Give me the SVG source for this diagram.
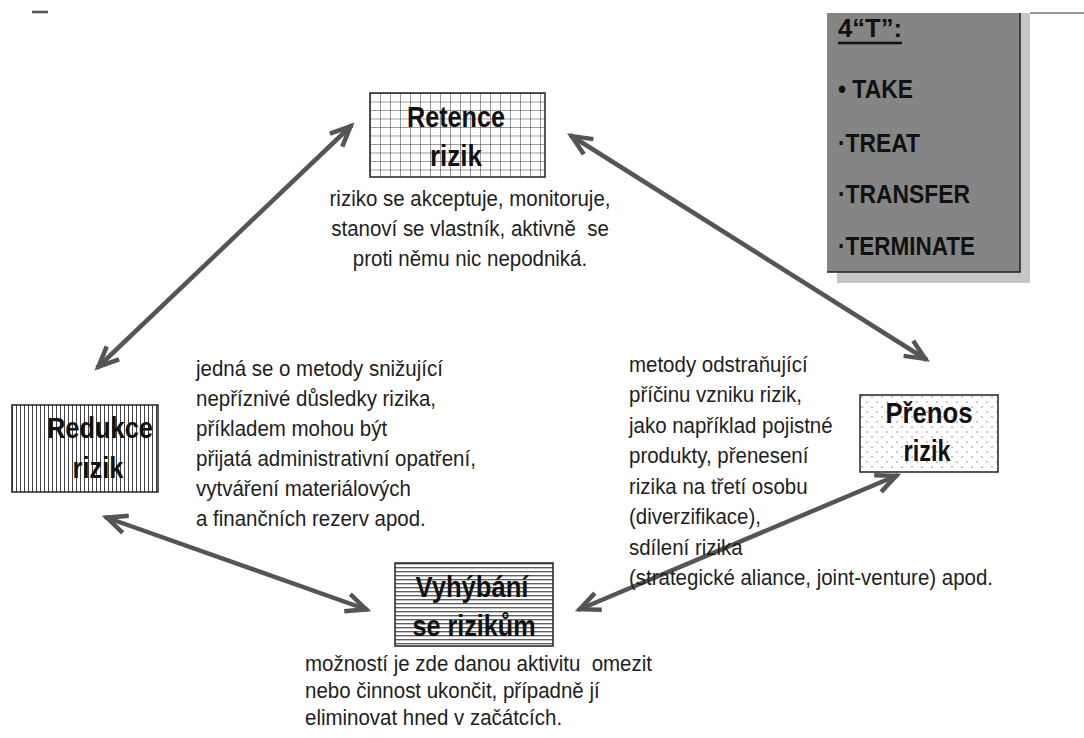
<svg xmlns="http://www.w3.org/2000/svg" width="1084" height="738" viewBox="0 0 1084 738">
  <defs>
    <style>
      .desc{font-family:"Liberation Sans",Arial,sans-serif;font-size:22.5px;fill:#1e1e1e;white-space:pre}
      .title{font-family:"Liberation Sans",Arial,sans-serif;font-weight:bold;font-size:29px;fill:#111}
      .t4{font-family:"Liberation Sans",Arial,sans-serif;font-weight:bold;font-size:25px;fill:#111}
      .box{stroke:#222;stroke-width:1.5}
      .conn{stroke:#555;stroke-width:4.5;fill:none;marker-start:url(#head);marker-end:url(#head)}
    </style>
    <!-- square grid hatch -->
    <pattern id="grid" patternUnits="userSpaceOnUse" x="370" y="93" width="10" height="8.5">
      <rect width="10" height="8.5" fill="#fff"/>
      <path d="M0,0V8.5M0,0H10" stroke="#333" stroke-width="1" fill="none"/>
    </pattern>
    <!-- vertical hatch -->
    <pattern id="vlines" patternUnits="userSpaceOnUse" x="12" y="405" width="4" height="4">
      <rect width="4" height="4" fill="#fff"/>
      <path d="M0.5,0V4" stroke="#444" stroke-width="1" fill="none"/>
    </pattern>
    <!-- horizontal hatch -->
    <pattern id="hlines" patternUnits="userSpaceOnUse" x="395" y="563" width="4" height="4">
      <rect width="4" height="4" fill="#fff"/>
      <path d="M0,0.7H4" stroke="#555" stroke-width="1.3" fill="none"/>
    </pattern>
    <!-- sparse dot fill -->
    <pattern id="dots" patternUnits="userSpaceOnUse" x="860" y="395" width="10" height="10">
      <rect width="10" height="10" fill="#fff"/>
      <circle cx="2" cy="2" r="0.8" fill="#888"/>
      <circle cx="7" cy="7" r="0.8" fill="#888"/>
    </pattern>
    <marker id="head" viewBox="0 0 34 26" refX="25" refY="13" markerWidth="34" markerHeight="26" markerUnits="userSpaceOnUse" orient="auto-start-reverse">
      <path d="M3,4 L23,13 L3,22" fill="none" stroke="#555" stroke-width="4.5" stroke-linejoin="miter"/>
    </marker>
  </defs>

  <rect width="1084" height="738" fill="#fff"/>

  <!-- page decorations -->
  <line x1="32" y1="12" x2="48" y2="12" stroke="#555" stroke-width="2.5"/>
  <line x1="1030" y1="13" x2="1084" y2="13" stroke="#777" stroke-width="1.5"/>

  <g id="connectors">
    <line class="conn" x1="97" y1="368" x2="352" y2="125"/>
    <line class="conn" x1="570" y1="135" x2="927" y2="360"/>
    <line class="conn" x1="105" y1="517" x2="368" y2="610"/>
    <line class="conn" x1="898" y1="475" x2="578" y2="610"/>
  </g>

  <g id="retence">
    <rect class="box" x="370" y="93" width="175" height="84" fill="url(#grid)"/>
    <text class="title" x="456" y="127" text-anchor="middle" textLength="98" lengthAdjust="spacingAndGlyphs">Retence</text>
    <text class="title" x="456" y="166" text-anchor="middle" textLength="52" lengthAdjust="spacingAndGlyphs">rizik</text>
    <g transform="translate(470,0) scale(0.91,1)">
      <text class="desc" x="0" y="206" text-anchor="middle">riziko se akceptuje, monitoruje,</text>
      <text class="desc" x="0" y="236" text-anchor="middle">stanoví se vlastník, aktivně  se</text>
      <text class="desc" x="0" y="266" text-anchor="middle">proti němu nic nepodniká.</text>
    </g>
  </g>

  <g id="redukce">
    <rect class="box" x="12" y="405" width="146" height="87" fill="url(#vlines)"/>
    <text class="title" x="100" y="438" text-anchor="middle" textLength="106" lengthAdjust="spacingAndGlyphs">Redukce</text>
    <text class="title" x="98" y="478" text-anchor="middle" textLength="51" lengthAdjust="spacingAndGlyphs">rizik</text>
    <g transform="translate(196,0) scale(0.91,1)">
      <text class="desc" x="0" y="376">jedná se o metody snižující</text>
      <text class="desc" x="0" y="406">nepříznivé důsledky rizika,</text>
      <text class="desc" x="0" y="436">příkladem mohou být</text>
      <text class="desc" x="0" y="466">přijatá administrativní opatření,</text>
      <text class="desc" x="0" y="496">vytváření materiálových</text>
      <text class="desc" x="0" y="526">a finančních rezerv apod.</text>
    </g>
  </g>

  <g id="prenos">
    <rect class="box" x="860" y="395" width="138" height="77" fill="url(#dots)"/>
    <text class="title" x="929" y="423" text-anchor="middle" textLength="87" lengthAdjust="spacingAndGlyphs">Přenos</text>
    <text class="title" x="927" y="461" text-anchor="middle" textLength="47" lengthAdjust="spacingAndGlyphs">rizik</text>
    <g transform="translate(629,0) scale(0.91,1)">
      <text class="desc" x="0" y="372">metody odstraňující</text>
      <text class="desc" x="0" y="402">příčinu vzniku rizik,</text>
      <text class="desc" x="0" y="433">jako například pojistné</text>
      <text class="desc" x="0" y="463">produkty, přenesení</text>
      <text class="desc" x="0" y="494">rizika na třetí osobu</text>
      <text class="desc" x="0" y="524">(diverzifikace),</text>
      <text class="desc" x="0" y="555">sdílení rizika</text>
      <text class="desc" x="0" y="585">(strategické aliance, joint-venture) apod.</text>
    </g>
  </g>

  <g id="vyhybani">
    <rect class="box" x="395" y="563" width="158" height="83" fill="url(#hlines)"/>
    <text class="title" x="472" y="597" text-anchor="middle" textLength="113" lengthAdjust="spacingAndGlyphs">Vyhýbání</text>
    <text class="title" x="474" y="636" text-anchor="middle" textLength="123" lengthAdjust="spacingAndGlyphs">se rizikům</text>
    <g transform="translate(305,0) scale(0.91,1)">
      <text class="desc" x="0" y="671">možností je zde danou aktivitu  omezit</text>
      <text class="desc" x="0" y="698">nebo činnost ukončit, případně jí</text>
      <text class="desc" x="0" y="725">eliminovat hned v začátcích.</text>
    </g>
  </g>

  <g id="four-t">
    <rect x="837" y="13" width="193" height="270" fill="#c6c6c6"/>
    <rect x="827" y="13" width="193" height="259" fill="#858585"/>
    <path d="M1020,13V272H827" fill="none" stroke="#222" stroke-width="1.5"/>
    <text class="t4" x="838" y="37" font-size="26" textLength="64" lengthAdjust="spacingAndGlyphs">4“T”:</text>
    <line x1="838" y1="43" x2="902" y2="43" stroke="#111" stroke-width="2.5"/>
    <text class="t4" x="838" y="98" textLength="75" lengthAdjust="spacingAndGlyphs">• TAKE</text>
    <text class="t4" x="838" y="152" textLength="82" lengthAdjust="spacingAndGlyphs">·TREAT</text>
    <text class="t4" x="838" y="203" textLength="132" lengthAdjust="spacingAndGlyphs">·TRANSFER</text>
    <text class="t4" x="838" y="255" textLength="137" lengthAdjust="spacingAndGlyphs">·TERMINATE</text>
  </g>
</svg>
